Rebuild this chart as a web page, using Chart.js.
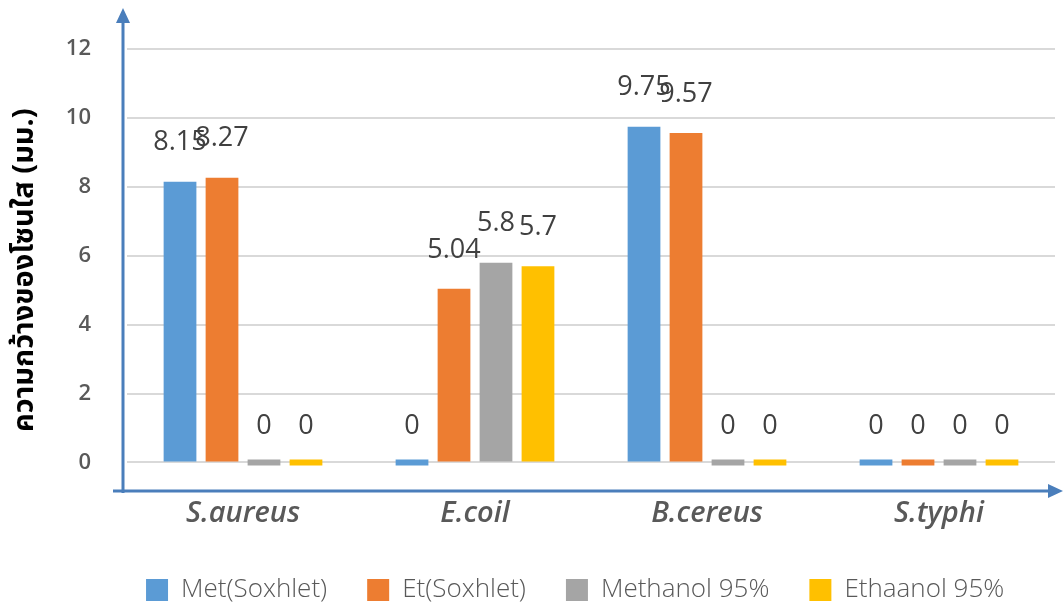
<!DOCTYPE html>
<html>
<head>
<meta charset="utf-8">
<script src="https://cdn.jsdelivr.net/npm/chart.js@4/dist/chart.umd.min.js"></script>
<style>
  html, body { margin: 0; padding: 0; background: #fff; }
  #wrap { width: 1063px; height: 605px; }
</style>
</head>
<body>
<div id="wrap"><canvas id="chart_1"></canvas></div>
<script>
const labels = ["S.aureus", "E.coil", "B.cereus", "S.typhi"]
const met_soxhlet = [8.15, 0, 9.75, 0]
const et_soxhlet = [8.27, 5.04, 9.57, 0]
const methanol_95 = [0, 5.8, 0, 0]
const ethaanol_95 = [0, 5.7, 0, 0]
const y_ticks = [0, 2, 4, 6, 8, 10, 12]

const axis_blue = "#4a7ebb"

// data labels above each bar
const bar_labels = {
    id: "bar_labels",
    afterDatasetsDraw(chart){
        let ctx = chart.ctx
        ctx.save()
        ctx.font = "27px 'Open Sans', sans-serif"
        ctx.fillStyle = "#404040"
        ctx.textAlign = "center"
        ctx.textBaseline = "middle"
        chart.data.datasets.forEach((ds, i) => {
            let meta = chart.getDatasetMeta(i)
            meta.data.forEach((bar, j) => {
                ctx.fillText(String(ds.data[j]), bar.x, bar.y - 39)
            })
        })
        ctx.restore()
    }
}

// blue arrow axes
const arrow_axes = {
    id: "arrow_axes",
    afterDraw(chart){
        let ctx = chart.ctx
        let a = chart.chartArea
        ctx.save()
        ctx.strokeStyle = axis_blue
        ctx.fillStyle = axis_blue
        ctx.lineWidth = 3
        let x0 = a.left - 4
        ctx.beginPath()
        ctx.moveTo(x0, a.bottom + 2)
        ctx.lineTo(x0, 20)
        ctx.stroke()
        ctx.beginPath()
        ctx.moveTo(x0, 8)
        ctx.lineTo(x0 - 7, 23)
        ctx.lineTo(x0 + 7, 23)
        ctx.closePath()
        ctx.fill()
        ctx.beginPath()
        ctx.moveTo(a.left - 14, a.bottom)
        ctx.lineTo(1050, a.bottom)
        ctx.stroke()
        ctx.beginPath()
        ctx.moveTo(1063, a.bottom)
        ctx.lineTo(1048, a.bottom - 7)
        ctx.lineTo(1048, a.bottom + 7)
        ctx.closePath()
        ctx.fill()
        ctx.restore()
    }
}

const data_1 = {
    labels,
    datasets: [
        { label: "Met(Soxhlet)", data: met_soxhlet, backgroundColor: "#5b9bd5" },
        { label: "Et(Soxhlet)", data: et_soxhlet, backgroundColor: "#ed7d31" },
        { label: "Methanol 95%", data: methanol_95, backgroundColor: "#a5a5a5" },
        { label: "Ethaanol 95%", data: ethaanol_95, backgroundColor: "#ffc000" }
    ]
}

const config_1 = {
    type: "bar",
    data: data_1,
    options: {
        responsive: true,
        maintainAspectRatio: false,
        animation: false,
        layout: { autoPadding: false, padding: { top: 30, right: 8, left: 0, bottom: -8 } },
        datasets: {
            bar: {
                categoryPercentage: 0.724,
                barPercentage: 0.78,
                minBarLength: 6
            }
        },
        scales: {
            x: {
                grid: { display: false, drawTicks: false },
                border: { display: false },
                ticks: {
                    color: "#595959",
                    padding: 5,
                    font: { size: 29, weight: 600, style: "italic", family: "'Open Sans', sans-serif" }
                },
                afterFit(scale){ scale.height = 46 }
            },
            y: {
                min: -0.83,
                max: 12,
                afterBuildTicks(scale){
                    scale.ticks = y_ticks.map(v => ({ value: v }))
                },
                grid: { color: "#d9d9d9", lineWidth: 2, drawTicks: false },
                border: { display: false },
                ticks: {
                    color: "#595959",
                    padding: 36,
                    font: { size: 22, weight: 600, family: "'Open Sans', sans-serif" }
                },
                title: {
                    display: true,
                    text: "ความกว้างของโซนใส (มม.)",
                    color: "#000",
                    padding: { top: 10, bottom: 0 },
                    font: { size: 29, weight: "bold", family: "'Noto Sans Thai', 'Noto Sans', sans-serif" }
                },
                afterFit(scale){ scale.width = 127 }
            }
        },
        plugins: {
            legend: {
                position: "bottom",
                labels: {
                    boxWidth: 22,
                    boxHeight: 22,
                    padding: 40,
                    color: "#595959",
                    font: { size: 26, weight: 300, family: "'Open Sans', sans-serif" },
                    generateLabels(chart){
                        let items = Chart.defaults.plugins.legend.labels.generateLabels(chart)
                        // blank lead item, nudges the row to the right like the original
                        items.unshift({ text: "   ", fillStyle: "rgba(0,0,0,0)", strokeStyle: "rgba(0,0,0,0)", lineWidth: 0, hidden: false, datasetIndex: -1 })
                        return items
                    }
                }
            },
            tooltip: { enabled: false }
        }
    },
    plugins: [bar_labels, arrow_axes]
}
const chart_1 = new Chart(document.getElementById("chart_1").getContext("2d"), config_1)
</script>
</body>
</html>
